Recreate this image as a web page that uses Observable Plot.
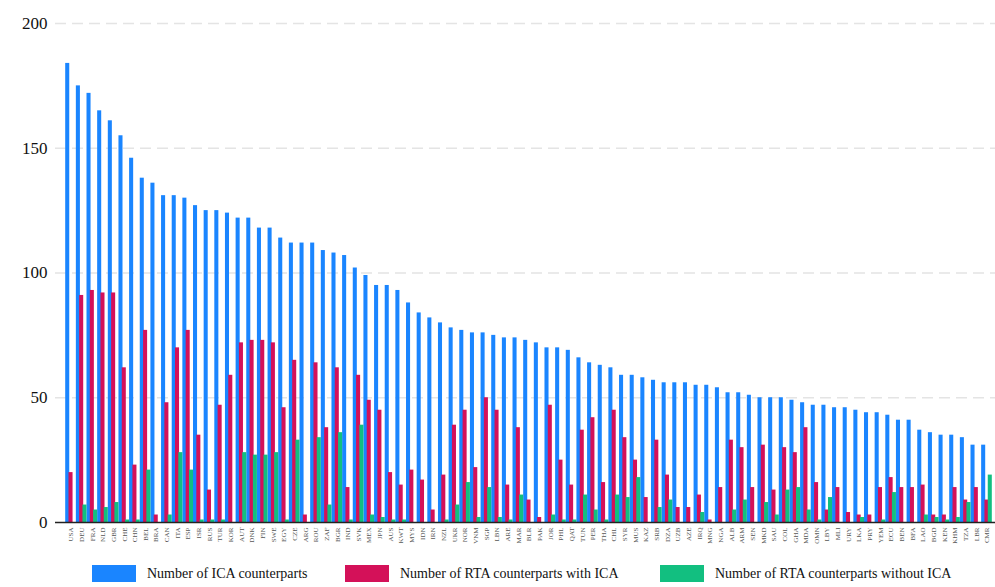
<!DOCTYPE html>
<html>
<head>
<meta charset="utf-8">
<script src="https://cdn.jsdelivr.net/npm/d3@7"></script>
<script src="https://cdn.jsdelivr.net/npm/@observablehq/plot@0.6"></script>
<style>
  html, body { margin: 0; padding: 0; background: #fff; }
  #wrap { position: relative; width: 995px; height: 587px; font-family: "Liberation Serif", "DejaVu Serif", serif; }
  #chart svg { display: block; }
  .legend { position: absolute; top: 565px; left: 0; width: 995px; height: 20px; }
  .item { position: absolute; top: 0; display: flex; align-items: center; font-size: 14px; color: #111; }
  .sw { width: 44px; height: 17px; margin-right: 11px; }
</style>
</head>
<body>
<div id="wrap">
  <div id="chart"></div>
  <div class="legend" id="legend"></div>
</div>
<script>
const countries = ["USA","DEU","FRA","NLD","GBR","CHE","CHN","BEL","BRA","CAN","ITA","ESP","ISR","RUS","TUR","KOR","AUT","DNK","FIN","SWE","EGY","CZE","ARG","ROU","ZAF","BGR","IND","SVK","MEX","JPN","AUS","KWT","MYS","IDN","IRN","NZL","UKR","NOR","VNM","SGP","LBN","ARE","MAR","BLR","PAK","JOR","PHL","QAT","TUN","PER","THA","CHL","SYR","MUS","KAZ","SRB","DZA","UZB","AZE","IRQ","MNG","NGA","ALB","ARM","SEN","MKD","SAU","COL","GHA","MDA","OMN","LBY","MLI","URY","LKA","PRY","YEM","ECU","BEN","BFA","LAO","BGD","KEN","KHM","TZA","LBR","CMR"];
const icaCounts = [184,175,172,165,161,155,146,138,136,131,131,130,127,125,125,124,122,122,118,118,114,112,112,112,109,108,107,102,99,95,95,93,88,84,82,80,78,77,76,76,75,74,74,73,72,70,70,69,66,64,63,62,59,59,58,57,56,56,56,55,55,54,52,52,51,50,50,50,49,48,47,47,46,46,45,44,44,43,41,41,37,36,35,35,34,31,31];
const rtaWithIca = [20,91,93,92,92,62,23,77,3,48,70,77,35,13,47,59,72,73,73,72,46,65,3,64,38,62,14,59,49,45,20,15,21,17,5,19,39,45,22,50,45,15,38,9,2,47,25,15,37,42,16,45,34,25,10,33,19,6,6,11,1,14,33,30,14,31,13,30,28,38,16,5,14,4,3,3,14,18,14,14,15,3,3,14,9,14,9];
const rtaWithoutIca = [0,7,5,6,8,1,1,21,0,3,28,21,1,1,1,0,28,27,27,28,1,33,0,34,7,36,1,39,3,2,1,1,0,0,0,1,7,16,2,14,2,1,11,0,0,3,1,1,11,5,1,11,10,18,0,6,9,0,0,4,0,0,5,9,0,8,3,13,14,5,1,10,0,0,2,0,1,12,0,0,3,2,1,2,8,0,19];
const seriesLabels = ["Number of ICA counterparts","Number of RTA counterparts with ICA","Number of RTA counterparts without ICA"];
const yTicks = [0,50,100,150,200];

const colors = ["#1a85ff","#d41159","#12bf80"];

const data = countries.map((c, i) => ({country: c, ica: icaCounts[i], withIca: rtaWithIca[i], withoutIca: rtaWithoutIca[i]}));

const chart = Plot.plot({
  width: 995,
  height: 560,
  marginLeft: 55,
  marginRight: 0,
  marginTop: 23,
  marginBottom: 38,
  style: {fontFamily: "Liberation Serif, DejaVu Serif, serif", background: "#fff", color: "#111"},
  x: {type: "band", domain: countries, range: [65.2, 991.8], padding: 0, label: null},
  y: {domain: [0, 200], label: null},
  marks: [
    Plot.gridY(yTicks.filter(d => d > 0), {stroke: "#e4e4e4", strokeOpacity: 1, strokeWidth: 1.6, strokeDasharray: "11,6"}),
    Plot.barY(data, {x: "country", y: "ica", fill: colors[0], insetLeft: 0, insetRight: 6.6}),
    Plot.barY(data, {x: "country", y: "withIca", fill: colors[1], insetLeft: 3.3, insetRight: 3.3}),
    Plot.barY(data, {x: "country", y: "withoutIca", fill: colors[2], insetLeft: 6.6, insetRight: 0}),
    Plot.ruleY([0], {stroke: "#222", strokeWidth: 1.5}),
    Plot.axisY({ticks: yTicks, tickSize: 0, tickPadding: 8, fontSize: 17, label: null}),
    Plot.axisX({tickRotate: -90, tickSize: 0, tickPadding: 5, fontSize: 7, fill: "#555", label: null})
  ]
});
document.getElementById("chart").appendChild(chart);

const legend = document.getElementById("legend");
const lefts = [92, 345, 660];
seriesLabels.forEach((t, i) => {
  const it = document.createElement("div");
  it.className = "item";
  it.style.left = lefts[i] + "px";
  const sw = document.createElement("div");
  sw.className = "sw";
  sw.style.background = colors[i];
  const tx = document.createElement("span");
  tx.textContent = t;
  it.appendChild(sw); it.appendChild(tx);
  legend.appendChild(it);
});
</script>
</body>
</html>
